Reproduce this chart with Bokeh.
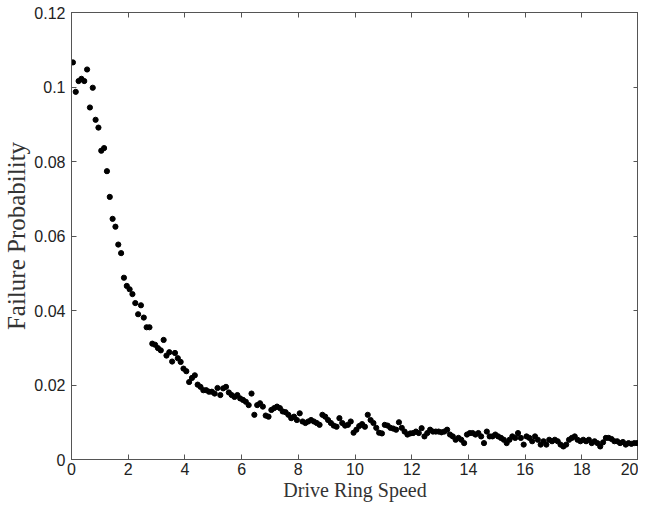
from bokeh.plotting import figure
from bokeh.models import LinearAxis, FixedTicker, Range1d, CustomLabelingPolicy
from bokeh.embed import file_html
from bokeh.resources import INLINE

# Drive ring speed (x) and failure probability (y)
speed = [
    0.05, 0.15, 0.25, 0.35, 0.45, 0.55, 0.65, 0.75, 0.85, 0.95,
    1.05, 1.15, 1.25, 1.35, 1.45, 1.55, 1.65, 1.75, 1.85, 1.95,
    2.05, 2.15, 2.25, 2.35, 2.45, 2.55, 2.65, 2.75, 2.85, 2.95,
    3.05, 3.15, 3.25, 3.35, 3.45, 3.55, 3.65, 3.75, 3.85, 3.95,
    4.05, 4.15, 4.25, 4.35, 4.45, 4.55, 4.65, 4.75, 4.85, 4.95,
    5.05, 5.15, 5.25, 5.35, 5.45, 5.55, 5.65, 5.75, 5.85, 5.95,
    6.05, 6.15, 6.25, 6.35, 6.45, 6.55, 6.65, 6.75, 6.85, 6.95,
    7.05, 7.15, 7.25, 7.35, 7.45, 7.55, 7.65, 7.75, 7.85, 7.95,
    8.05, 8.15, 8.25, 8.35, 8.45, 8.55, 8.65, 8.75, 8.85, 8.95,
    9.05, 9.15, 9.25, 9.35, 9.45, 9.55, 9.65, 9.75, 9.85, 9.95,
    10.05, 10.15, 10.25, 10.35, 10.45, 10.55, 10.65, 10.75, 10.85, 10.95,
    11.05, 11.15, 11.25, 11.35, 11.45, 11.55, 11.65, 11.75, 11.85, 11.95,
    12.05, 12.15, 12.25, 12.35, 12.45, 12.55, 12.65, 12.75, 12.85, 12.95,
    13.05, 13.15, 13.25, 13.35, 13.45, 13.55, 13.65, 13.75, 13.85, 13.95,
    14.05, 14.15, 14.25, 14.35, 14.45, 14.55, 14.65, 14.75, 14.85, 14.95,
    15.05, 15.15, 15.25, 15.35, 15.45, 15.55, 15.65, 15.75, 15.85, 15.95,
    16.05, 16.15, 16.25, 16.35, 16.45, 16.55, 16.65, 16.75, 16.85, 16.95,
    17.05, 17.15, 17.25, 17.35, 17.45, 17.55, 17.65, 17.75, 17.85, 17.95,
    18.05, 18.15, 18.25, 18.35, 18.45, 18.55, 18.65, 18.75, 18.85, 18.95,
    19.05, 19.15, 19.25, 19.35, 19.45, 19.55, 19.65, 19.75, 19.85, 19.95,
]
failure_prob = [
    0.1066, 0.0987, 0.1016, 0.1022, 0.1016, 0.1047, 0.0945, 0.0998, 0.0912, 0.0891,
    0.0829, 0.0836, 0.0774, 0.0705, 0.0646, 0.0625, 0.0577, 0.0554, 0.0488, 0.0466,
    0.0457, 0.0444, 0.0420, 0.0390, 0.0414, 0.0381, 0.0355, 0.0355, 0.0311, 0.0308,
    0.0299, 0.0293, 0.0321, 0.0279, 0.0288, 0.0263, 0.0286, 0.0272, 0.0262, 0.0244,
    0.0237, 0.0208, 0.0219, 0.0226, 0.0201, 0.0195, 0.0186, 0.0186, 0.0182, 0.0182,
    0.0177, 0.0192, 0.0173, 0.0191, 0.0195, 0.0180, 0.0173, 0.0168, 0.0173, 0.0164,
    0.0160, 0.0155, 0.0146, 0.0177, 0.0120, 0.0146, 0.0151, 0.0142, 0.0118, 0.0115,
    0.0133, 0.0138, 0.0142, 0.0138, 0.0129, 0.0127, 0.0120, 0.0111, 0.0115, 0.0106,
    0.0124, 0.0102, 0.0098, 0.0102, 0.0106, 0.0102, 0.0098, 0.0093, 0.0120, 0.0115,
    0.0106, 0.0098, 0.0091, 0.0088, 0.0111, 0.0098, 0.0091, 0.0093, 0.0102, 0.0072,
    0.0080, 0.0090, 0.0095, 0.0088, 0.0120, 0.0106, 0.0098, 0.0085, 0.0072, 0.0070,
    0.0093, 0.0091, 0.0085, 0.0083, 0.0080, 0.0100, 0.0085, 0.0075, 0.0067, 0.0070,
    0.0071, 0.0075, 0.0071, 0.0084, 0.0062, 0.0071, 0.0080, 0.0075, 0.0075, 0.0075,
    0.0073, 0.0075, 0.0080, 0.0067, 0.0062, 0.0053, 0.0058, 0.0053, 0.0044, 0.0067,
    0.0071, 0.0071, 0.0067, 0.0071, 0.0062, 0.0044, 0.0075, 0.0062, 0.0062, 0.0067,
    0.0062, 0.0058, 0.0053, 0.0044, 0.0053, 0.0062, 0.0058, 0.0071, 0.0058, 0.0040,
    0.0062, 0.0058, 0.0049, 0.0062, 0.0053, 0.0040, 0.0049, 0.0040, 0.0053, 0.0049,
    0.0053, 0.0049, 0.0040, 0.0035, 0.0040, 0.0053, 0.0058, 0.0062, 0.0053, 0.0049,
    0.0053, 0.0049, 0.0053, 0.0044, 0.0049, 0.0044, 0.0035, 0.0046, 0.0058, 0.0058,
    0.0055, 0.0049, 0.0049, 0.0044, 0.0047, 0.0040, 0.0044, 0.0042, 0.0044, 0.0044,
]

x_ticks = [0, 2, 4, 6, 8, 10, 12, 14, 16, 18, 20]
x_tick_labels = ["0", "2", "4", "6", "8", "10", "12", "14", "16", "18", "20"]
y_ticks = [0, 0.02, 0.04, 0.06, 0.08, 0.1, 0.12]
y_tick_labels = ["0", "0.02", "0.04", "0.06", "0.08", "0.1", "0.12"]

FRAME = "#555555"

p = figure(width=638, height=503, output_backend="svg", toolbar_location=None,
           x_range=Range1d(0, 20), y_range=Range1d(0, 0.12),
           min_border_left=60, min_border_right=0, min_border_top=12,
           min_border_bottom=44, background_fill_color="white")

p.scatter(speed, failure_prob, size=5.2, color="black", line_color="black")

p.xgrid.visible = False
p.ygrid.visible = False
p.outline_line_color = FRAME
p.outline_line_width = 1


def style_axis(ax, ticks, labels=None):
    ax.ticker = FixedTicker(ticks=ticks)
    ax.major_tick_in = 5
    ax.major_tick_out = 0
    ax.minor_tick_in = 0
    ax.minor_tick_out = 0
    ax.axis_line_color = FRAME
    ax.major_tick_line_color = FRAME
    if labels is not None:
        ax.major_label_overrides = {t: l for t, l in zip(ticks, labels)}
        ax.major_label_text_font = "Liberation Sans"
        ax.major_label_text_font_size = "16px"
        ax.major_label_text_color = "#222222"
    else:
        # tick marks only (MATLAB-style box): labels are never drawn
        ax.major_label_policy = CustomLabelingPolicy(code="return false")
        ax.major_label_text_font_size = "0px"
        ax.major_label_standoff = 0
        ax.axis_label_standoff = 0


style_axis(p.xaxis[0], x_ticks, x_tick_labels)
style_axis(p.yaxis[0], y_ticks, y_tick_labels)
p.xaxis[0].major_label_standoff = 3
p.yaxis[0].major_label_standoff = 6

p.xaxis[0].axis_label = "Drive Ring Speed"
p.yaxis[0].axis_label = "Failure Probability"
for ax, fs in ((p.xaxis[0], "20px"), (p.yaxis[0], "25px")):
    ax.axis_label_text_font = "Liberation Serif"
    ax.axis_label_text_font_size = fs
    ax.axis_label_text_font_style = "normal"
    ax.axis_label_text_color = "#333333"
    ax.axis_label_standoff = 1

top_axis = LinearAxis()
style_axis(top_axis, x_ticks)
p.add_layout(top_axis, "above")
right_axis = LinearAxis()
style_axis(right_axis, y_ticks)
p.add_layout(right_axis, "right")

open("out.html", "w").write(file_html(p, INLINE))
